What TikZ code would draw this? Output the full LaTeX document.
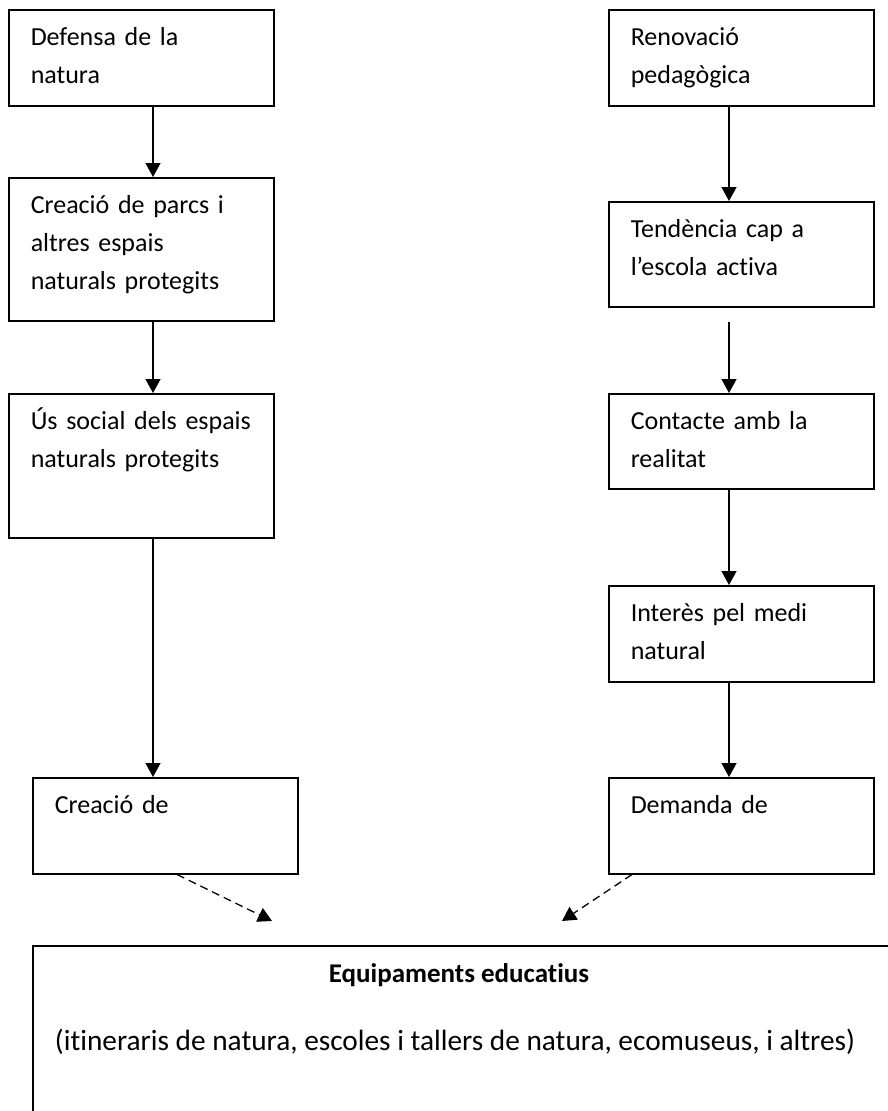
\documentclass[tikz,border=0pt]{standalone}
\usepackage{fontspec}
\setmainfont{Carlito}[Ligatures=NoCommon]
\usepackage{tikz}
\usetikzlibrary{arrows.meta}

\begin{document}
\begin{tikzpicture}[x=1pt, y=1pt,
  caixa/.style={rectangle, draw, line width=1.5pt, anchor=north west,
    inner xsep=22pt, inner ysep=0pt, text width=221pt, align=left,
    font=\fontsize{26}{38}\selectfont, text height=36pt, text depth=#1},
  fletxa/.style={line width=1.5pt, -{Triangle[width=15pt, length=14pt]}},
  discont/.style={line width=1.3pt, dash pattern=on 8pt off 5pt, -{Triangle[width=15pt, length=14pt]}},
  lletra/.style={anchor=base, font=\fontsize{26}{38}\selectfont, inner sep=0pt}]
\useasboundingbox (0,0) rectangle (888,-1111);
\clip (0,0) rectangle (888,-1111);

\coordinate (colL) at (153,0);
\coordinate (colR) at (729,0);

\node[caixa=60pt] (A1) at (8,-9) {Defensa de la\\natura};
\node[caixa=107pt] (A2) at (8,-177) {Creació de parcs i\\altres espais\\naturals protegits};
\node[caixa=108pt] (A3) at (8,-393) {Ús social dels espais\\naturals protegits};
\node[caixa=60pt] (A4) at (32,-777) {Creació de};

\node[caixa=60pt] (B1) at (608,-9) {Renovació\\pedagògica};
\node[caixa=69pt] (B2) at (608,-201) {Tendència cap a\\l’escola activa};
\node[caixa=59pt] (B3) at (608,-393) {Contacte amb la\\realitat};
\node[caixa=60pt] (B4) at (608,-585) {Interès pel medi\\natural};
\node[caixa=60pt] (B5) at (608,-777) {Demanda de};

\node[rectangle, draw, line width=1.5pt, anchor=north west, inner sep=0pt,
  minimum width=880pt, minimum height=250pt] (Eq) at (32,-945) {};
\node[lletra, font=\fontsize{27}{38}\selectfont\bfseries] (EqTitol) at (459,-982) {Equipaments educatius};
\node[lletra, font=\fontsize{29.3}{38}\selectfont] (EqLlista) at (455,-1050) {(itineraris de natura, escoles i tallers de natura, ecomuseus, i altres)};

\draw[fletxa] (A1.south -| colL) -- (A2.north -| colL);
\draw[fletxa] (A2.south -| colL) -- (A3.north -| colL);
\draw[fletxa] (A3.south -| colL) -- (A4.north -| colL);

\draw[fletxa] (B1.south -| colR) -- (B2.north -| colR);
\draw[fletxa, shorten <=14pt] (B2.south -| colR) -- (B3.north -| colR);
\draw[fletxa] (B3.south -| colR) -- (B4.north -| colR);
\draw[fletxa] (B4.south -| colR) -- (B5.north -| colR);

\coordinate (fiA) at (272,-921);
\coordinate (fiB) at (562,-921);
\draw[discont] ([xshift=145pt]A4.south west) -- (fiA);
\draw[discont] ([xshift=24pt]B5.south west) -- (fiB);
\end{tikzpicture}
\end{document}
